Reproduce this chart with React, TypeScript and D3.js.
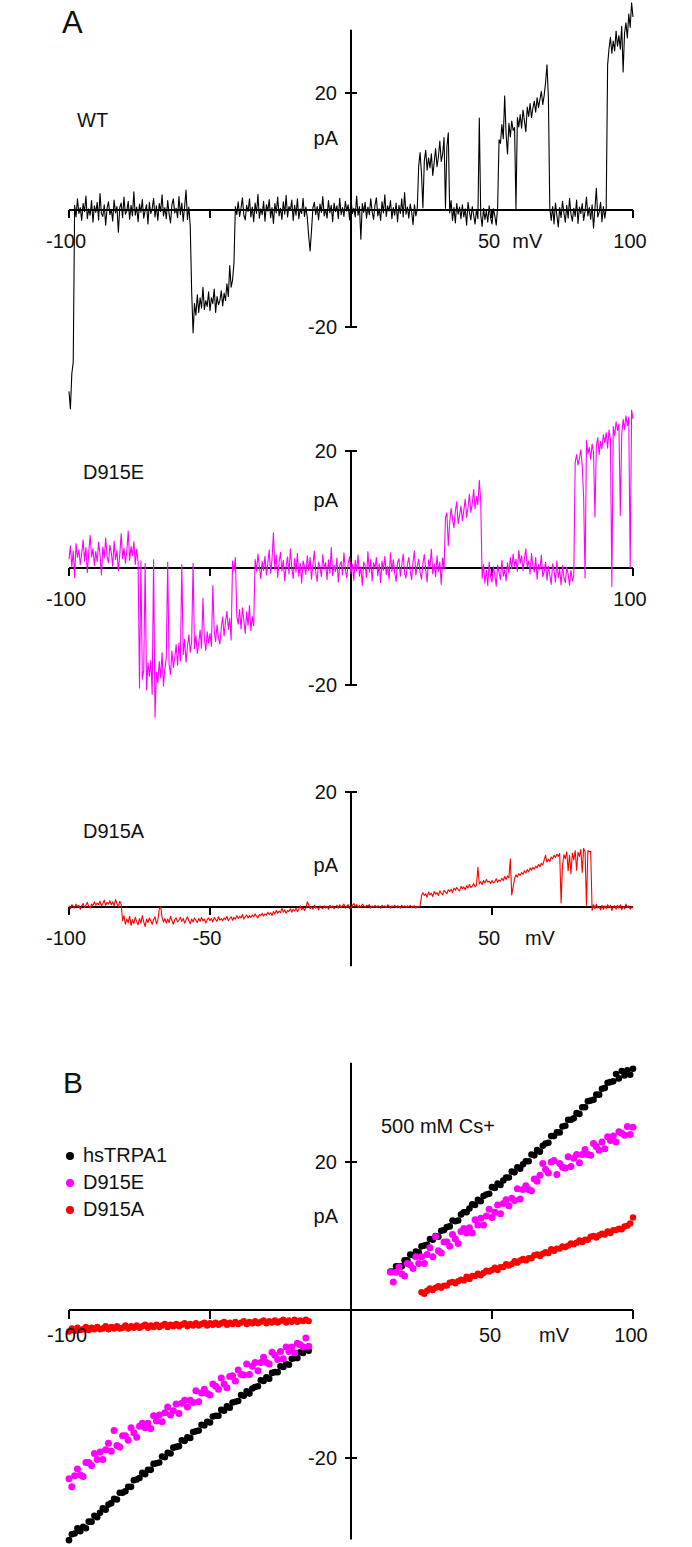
import React from 'react';
import * as d3 from 'd3';

// ---------- Panel A: single-channel traces, sampled every 0.5 mV from -100 to +100 mV (pA) ----------
const wtTrace = [
  -31, -34, -28, -26, 0.8, -1.2, 1.9, -0.6, 0.4, -1.8,
  1.1, -0.3, 2.4, -1.5, 0.2, -0.9, 1.6, -2.1, 0.7, -0.4,
  1.3, -1.7, 2.8, -0.6, -1.1, 0.9, -2.6, 0.3, 1.4, -0.8,
  0.1, -1.9, 1.7, -0.5, 0.6, -3.8, 0.4, 1.2, -1.3, 2.2,
  -0.7, -0.2, 1.5, -1.6, 0.8, -1.0, 3.1, -0.9, 0.5, -2.0,
  1.0, -0.4, 1.8, -1.4, -0.1, 0.9, -2.4, 1.3, -0.6, 0.2,
  2.0, -1.2, 0.7, -1.8, 1.1, -0.3, 2.6, -1.0, 0.4, -1.5,
  1.6, -0.7, -2.2, 0.9, 1.9, -0.5, 0.3, -1.3, 2.3, -0.8,
  1.2, -1.9, 0.6, 3.4, -1.6, 0.5, -2.8, -14, -21, -16,
  -18, -14.5, -17.5, -15, -16.8, -13.2, -17, -15.5, -16.5, -14,
  -17.2, -15, -16, -13.5, -17.5, -14.8, -16.2, -15.5, -13.8, -16.4,
  -14.2, -15.5, -12.6, -14.8, -9.5, -13.2, -12, -9, 0.6, -0.8,
  1.4, -1.1, 0.3, 2.1, -0.9, -1.7, 0.8, -0.3, 1.9, -1.2,
  0.5, -2.0, 1.2, -0.6, 2.7, -1.4, 0.2, -0.8, 1.5, -1.9,
  0.9, -0.2, 1.8, -1.3, 0.4, -2.3, 1.1, -0.5, 2.2, -1.0,
  0.3, -1.6, 1.4, -0.7, 2.5, -1.2, 0.6, -0.1, 1.7, -1.8,
  0.8, -0.9, 1.9, -1.5, 0.2, -0.6, 2.0, -1.1, 0.5, -1.3,
  -4.5, -7, -3.5, 0.4, 1.3, -0.8, 0.6, -1.7, 1.0, -0.4,
  2.3, -1.0, 0.1, -1.4, 1.6, -0.5, 0.8, -2.0, 1.2, -0.3,
  0.7, -1.5, 2.0, -0.8, 0.4, -1.1, 1.5, -0.2, 0.9, -1.7,
  1.8, -0.6, 0.3, -1.2, 2.4, -0.9, 0.6, -5.0, 1.1, -0.4,
  1.3, -1.4, 0.5, -0.8, 1.9, -0.3, -1.6, 0.8, 2.1, -1.0,
  0.2, -1.8, 1.4, -0.5, 2.6, -1.1, 0.7, -0.2, 1.6, -1.5,
  0.4, -0.9, 1.2, -2.0, 0.8, -0.6, 1.9, -1.2, 3.0, -0.7,
  0.5, -1.4, 1.0, -0.3, -2.5, 0.9, -1.0, 0.2, 7.5, 9.8,
  6.2, 0.4, 8.4, 10.2, 6.8, 8.9, 7.2, 9.6, 5.9, 8.1,
  10.5, 7.4, 9.1, 11.8, 8.3, 9.6, 12.4, 0.3, 10.8, 13.2,
  -0.5, 1.6, -1.8, 0.4, -2.2, 1.1, -0.7, 0.5, -1.5, 0.9,
  -1.2, 0.2, -2.6, 1.3, -0.4, -1.7, 0.6, -0.9, -2.4, 0.1,
  -1.5, 15.7, -0.8, -2.8, 0.3, -1.6, -0.2, -2.1, 0.7, -1.3,
  -2.4, 0.2, -1.0, -2.6, 0.5, 12.0, 11.4, 14.6, 12.2, 19.5,
  13.0, 9.6, 14.8, 12.5, 15.2, 13.6, 14.1, 0.2, 15.8, 14.2,
  16.3, 14.0, 17.1, 15.2, 13.4, 17.6, 16.0, 18.2, 15.8, 17.4,
  18.6, 16.7, 19.2, 17.5, 18.9, 20.3, 18.0, 19.6, 21.8, 24.8,
  19.2, 0.3, -1.8, 0.6, -2.4, 1.2, -0.9, -2.9, 0.4, -1.3,
  1.5, -0.5, -2.1, 0.8, -1.4, 2.0, -0.7, -1.9, 0.3, -1.1,
  1.7, -2.3, 0.5, -0.6, 1.1, -1.8, -0.2, 2.2, -1.0, 0.4,
  -1.6, 0.9, -3.1, 0.2, 3.7, -1.2, -0.4, 1.3, -2.0, 0.6,
  -1.4, 0.3, 24.8, 27.6, 29.5, 26.8, 28.9, 27.2, 30.6, 28.0,
  29.8, 27.5, 31.4, 23.6, 30.2, 32.0, 29.4, 33.5, 31.2, 35.4,
  33.0,
];

const d915eTrace = [
  1.5, 3.8, 0.2, 2.9, -1.6, 4.2, 1.8, 3.1, 0.6, 2.4,
  4.8, 1.2, 3.5, -0.8, 2.7, 5.6, 1.9, 3.3, 0.4, 2.8,
  1.1, 4.4, 2.3, -1.2, 3.6, 1.7, 5.1, 2.0, 0.9, 3.9,
  2.6, 0.3, 4.6, 1.4, 3.0, -0.5, 2.2, 5.9, 1.6, 3.4,
  0.8, 2.9, 6.3, 1.3, 3.7, 2.1, 4.5, 0.6, 3.2, 1.0,
  -20.5, 1.2, -19, -17.5, 0.8, -20.8, -16.2, -18.5, -15.8, -21.6,
  1.4, -25.5, -17.8, -19.6, -16, -18.8, -14.5, -20.2, -17.2, -15.4,
  1.0, -16.5, -18.2, -14.2, -17, -15.4, -13.1, -16.6, -12.8, -15.9,
  0.6, -14.8, -12.2, -16.1, -13.5, -11.4, -14.4, -12.6, 0.8, -13.8,
  -11.5, -14.6, -12.9, -10.6, -13.7, -5.2, -12.0, -14.1, -10.9, -12.8,
  -11.2, -13.4, -3.0, -10.8, -12.6, -9.7, -11.9, -13.0, -10.2, -8.4,
  -11.6, -9.2, -7.4, -10.5, -8.6, -12.3, 1.2, -0.5, 1.8, -8.2,
  -9.6, -7.1, -10.4, -6.8, -8.9, -11.2, -7.5, -9.8, -6.4, -10.7,
  -8.3, -9.9, 1.5, -0.6, 2.4, 0.3, -1.8, 1.1, -0.4, 2.0,
  -1.2, 0.7, 3.1, -0.9, 1.5, 6.0, -0.3, 2.2, -1.6, 0.9,
  2.7, -0.5, 1.3, -2.2, 0.4, 1.9, -1.0, 3.3, 0.1, -1.8,
  1.6, -0.7, 2.5, -1.4, 0.8, -2.6, 1.2, 0.3, -1.1, 2.1,
  -0.4, 1.8, -1.9, 0.6, 2.9, -0.8, -2.3, 1.0, 0.2, -1.5,
  2.3, -0.2, 0.9, -2.0, 1.4, -0.9, 3.5, -1.3, 0.5, -0.6,
  1.7, -2.4, 0.4, 1.1, -1.2, 2.6, -0.3, -1.7, 0.8, 1.9,
  -0.9, 0.6, -2.1, 1.3, -0.5, 2.2, -1.4, 0.2, -3.0, 1.0,
  0.4, -1.6, 2.8, -0.7, 1.5, -2.2, 0.9, -0.1, 1.8, -1.3,
  0.7, -2.5, 1.2, -0.4, 2.0, -1.1, 0.3, -1.9, 2.6, -0.6,
  1.4, -0.8, -2.3, 0.9, 1.6, -1.4, 0.5, 2.4, -0.9, -1.7,
  0.6, 1.8, -0.5, -2.0, 1.1, 2.9, -1.2, 0.3, 1.5, -0.8,
  -1.9, 0.8, 2.3, -0.3, -2.4, 1.4, 0.1, 3.2, -1.0, 0.7,
  -1.5, 2.1, -0.6, 1.0, -2.8, 1.7, -0.2, 8.6, 9.4, 3.8,
  7.8, 10.2, 8.4, 6.9, 9.7, 11.3, 7.6, 9.0, 10.6, 8.1,
  9.8, 11.8, 8.7, 10.4, 12.6, 9.5, 11.0, 13.4, 10.1, 12.2,
  10.8, 15.0, 11.5, -1.8, 0.6, -2.6, -0.4, -3.0, 1.0, -1.5,
  -2.4, 0.2, -1.1, -3.1, 0.5, -0.8, -2.0, 1.3, -1.4, -0.3,
  -2.2, 0.9, -0.9, 1.8, -0.1, 2.4, 0.3, 1.5, -0.6, 3.0,
  0.8, 2.1, -0.4, 1.6, 3.3, 0.2, 1.2, -1.0, 2.5, 0.4,
  -0.7, 1.8, -1.9, 0.6, -0.3, 2.2, -1.5, -0.6, 1.0, -2.1,
  0.3, -1.2, -2.8, 0.7, -0.5, -2.4, 1.2, -1.7, -0.2, -2.9,
  0.4, -1.6, -2.5, 0.1, -1.1, -3.0, -0.4, -2.2, -1.3, 18.0,
  19.4, 17.6, 18.8, 20.2, 17.4, 12.0, -1.7, 21.8, 19.5, 20.6,
  18.6, 21.2, 19.8, 8.7, 20.9, 22.3, 19.4, 21.6, 20.4, 22.8,
  21.4, 23.1, 20.5, 23.6, 22.0, -3.2, 24.2, 22.6, 25.0, 23.5,
  24.6, 9.0, 22.8, 25.4, 23.7, 26.0, 24.3, 25.8, 0.0, 27.0,
  25.5,
];

const d915aTrace = [
  0.2, -0.3, 0.4, 0.1, -0.2, 0.5, 0.0, 0.3, -0.4, 0.2,
  0.6, -0.1, 0.3, 0.8, 0.1, -0.2, 0.5, 0.2, 0.9, 0.3,
  0.7, 0.4, 1.0, 0.2, 0.6, 1.2, 0.3, 0.8, 0.5, 1.1,
  0.4, 0.9, 0.2, 1.3, 0.6, 0.1, 1.0, 0.5, -2.4, -1.5,
  -3.0, -2.1, -2.7, -1.6, -3.2, -2.2, -2.9, -1.8, -2.5, -3.1,
  -2.0, -2.8, -1.5, -2.6, -3.4, -2.1, -2.7, -1.9, -2.4, -3.0,
  -2.2, -1.7, -2.9, -2.3, -0.4, 0.1, -1.8, -2.6, -2.0, -2.8,
  -2.1, -2.7, -1.6, -2.4, -3.0, -2.2, -1.9, -2.6, -2.3, -1.8,
  -2.5, -2.0, -2.8, -2.2, -1.7, -2.4, -2.9, -2.1, -2.6, -1.9,
  -2.3, -2.7, -2.0, -2.5, -1.8, -2.4, -2.1, -2.8, -2.2, -1.9,
  -2.4, -2.0, -2.6, -1.8, -2.2, -2.5, -1.7, -2.3, -2.0, -2.4,
  -1.9, -2.2, -1.6, -2.4, -2.0, -1.7, -2.3, -1.8, -2.1, -1.5,
  -2.0, -1.6, -1.9, -1.3, -2.1, -1.7, -1.4, -1.9, -1.5, -1.8,
  -1.4, -1.7, -1.2, -1.6, -1.9, -1.3, -1.5, -1.1, -1.6, -1.2,
  -1.4, -0.9, -1.3, -1.0, -1.5, -0.8, -1.2, -0.6, -1.1, -0.7,
  -1.0, -0.2, -0.9, -0.5, -1.1, -0.6, -0.8, -0.3, -0.9, -0.4,
  -0.7, -0.2, -0.8, -0.4, 0.2, -0.5, -0.1, -0.6, -0.2, 0.9,
  0.4, -0.3, 0.1, -0.4, 0.3, -0.2, 0.0, -0.5, 0.2, -0.1,
  -0.3, 0.2, -0.2, 0.1, -0.4, 0.3, -0.1, 0.2, -0.3, 0.0,
  0.3, -0.2, 0.4, -0.1, 0.2, 0.5, -0.2, 0.1, 0.4, -0.3,
  -0.2, 0.3, 0.6, 0.1, 0.4, -0.1, 0.3, 0.0, 0.5, 0.2,
  -0.1, 0.3, 0.1, 0.4, -0.2, 0.2, 0.0, 0.3, -0.1, 0.2,
  0.1, -0.2, 0.3, 0.0, 0.2, -0.1, 0.4, 0.1, -0.2, 0.2,
  0.0, 0.3, -0.1, 0.2, 0.1, -0.2, 0.3, 0.0, 0.2, -0.1,
  0.2, 0.0, 0.3, -0.1, 0.1, 0.2, -0.2, 0.1, 0.0, 0.2,
  1.9, 2.5, 2.0, 2.3, 1.7, 2.6, 2.1, 2.4, 1.8, 2.7,
  2.2, 2.5, 2.0, 2.8, 2.4, 2.1, 2.9, 2.6, 2.3, 3.0,
  2.7, 3.1, 2.5, 3.3, 2.9, 3.4, 3.0, 2.8, 3.6, 3.2,
  3.5, 3.0, 3.7, 3.3, 3.9, 3.4, 3.6, 4.1, 3.5, 3.8,
  6.9, 4.0, 4.4, 3.9, 4.6, 4.2, 4.8, 4.3, 4.5, 4.1,
  4.6, 4.2, 4.4, 4.9, 4.3, 4.7, 4.5, 5.0, 4.6, 5.3,
  4.8, 5.4, 5.1, 8.4, 2.1, 3.5, 4.9, 5.6, 5.2, 5.8,
  5.5, 6.0, 5.7, 6.3, 5.9, 6.5, 6.1, 6.8, 6.4, 6.9,
  6.6, 7.1, 6.8, 7.4, 7.0, 7.6, 7.3, 8.2, 9.0, 7.8,
  8.3, 7.9, 8.7, 8.4, 9.0, 8.6, 9.2, 8.8, 9.3, 0.7,
  7.2, 9.1, 8.4, 9.6, 6.3, 9.0, 5.8, 9.4, 8.2, 9.8,
  6.4, 9.5, 8.8, 10.0, 6.0, 10.2, 9.6, 0.3, 9.8, 9.6,
  9.7, -0.6, 0.4, -0.3, 0.5, -0.2, 0.1, -0.5, 0.3, -0.4,
  0.2, -0.3, 0.4, -0.1, 0.3, -0.6, 0.1, 0.2, -0.4, 0.3,
  -0.2, 0.4, -0.5, 0.1, -0.3, 0.5, -0.1, 0.2, -0.4, 0.1,
  -0.2,
];

// ---------- Panel B: I-V relations in 500 mM Cs+, 1 mV steps (pA) ----------
const hsTRPA1NegStart = -100;
const hsTRPA1Neg = [
  -31.1, -30.3, -30.2, -29.5, -29.9, -29.3, -29.5, -28.6, -28.6, -27.8,
  -28.0, -27.4, -26.8, -27.0, -26.3, -26.1, -25.5, -25.6, -24.7, -24.7,
  -24.5, -23.9, -23.9, -23.0, -22.9, -22.7, -22.0, -22.2, -21.6, -21.6,
  -20.8, -20.7, -20.6, -19.8, -19.9, -19.3, -19.4, -18.6, -18.5, -18.4,
  -17.6, -17.7, -17.2, -17.3, -16.5, -16.4, -16.3, -15.5, -15.6, -15.1,
  -15.2, -14.4, -14.3, -14.3, -13.5, -13.6, -13.0, -13.2, -12.5, -12.4,
  -12.3, -11.5, -11.6, -11.0, -11.3, -10.6, -10.4, -10.3, -9.5, -9.6,
  -9.1, -9.3, -8.5, -8.4, -8.4, -7.6, -7.7, -7.3, -7.4, -6.6,
  -6.5, -6.5, -5.7, -5.8, -5.3, -5.5,
];
const hsTRPA1PosStart = 14;
const hsTRPA1Pos = [
  5.2, 5.2, 5.9, 5.9, 5.9, 6.7, 6.7, 7.5, 7.4, 7.9,
  7.8, 8.6, 8.7, 8.8, 9.6, 9.5, 10.0, 9.9, 10.7, 10.8,
  11.2, 11.3, 12.1, 12.0, 12.1, 12.9, 13.2, 13.2, 13.7, 14.3,
  14.2, 14.9, 14.7, 15.4, 15.6, 15.7, 16.6, 16.5, 17.1, 16.9,
  17.5, 17.9, 17.9, 18.7, 18.6, 19.3, 19.1, 19.7, 20.1, 20.1,
  21.0, 20.9, 21.6, 21.4, 22.2, 22.5, 22.6, 23.5, 23.5, 24.0,
  24.0, 24.8, 24.9, 25.7, 25.7, 25.9, 26.6, 26.5, 27.4, 27.4,
  28.2, 28.3, 28.4, 29.1, 29.1, 29.9, 30.0, 30.7, 30.8, 30.9,
  31.9, 31.3, 32.3, 31.7, 32.4, 31.8, 32.6,
];
const d915eNegStart = -100;
const d915eNeg = [
  -22.8, -23.9, -22.4, -21.5, -22.3, -22.5, -20.6, -20.6, -21.0, -19.4,
  -20.2, -19.2, -20.2, -18.9, -18.0, -19.1, -16.3, -18.3, -18.5, -17.0,
  -17.0, -17.6, -15.9, -16.6, -17.2, -15.7, -15.3, -15.9, -15.3, -16.0,
  -14.3, -15.0, -14.2, -15.1, -13.9, -13.1, -14.2, -13.6, -12.7, -14.0,
  -12.6, -12.2, -13.1, -12.2, -12.5, -10.9, -12.4, -11.2, -10.7, -11.3,
  -11.5, -10.0, -10.3, -10.7, -9.2, -10.0, -10.5, -9.0, -8.9, -9.6,
  -8.1, -8.7, -8.8, -7.3, -8.7, -7.6, -7.1, -8.2, -7.1, -6.4,
  -7.1, -7.3, -5.7, -6.1, -6.7, -5.6, -6.6, -5.0, -5.6, -5.0,
  -5.8, -4.5, -4.7, -5.0, -3.8, -4.9,
];
const d915ePosStart = 14;
const d915ePos = [
  5.1, 3.8, 5.1, 5.8, 4.9, 4.6, 6.3, 6.1, 5.6, 7.2,
  6.3, 7.2, 6.3, 7.5, 8.4, 7.2, 9.9, 8.0, 7.7, 9.2,
  9.2, 8.6, 10.2, 9.6, 9.0, 10.6, 11.0, 10.4, 11.1, 10.4,
  12.2, 11.5, 12.4, 11.5, 12.7, 13.6, 12.5, 13.2, 14.2, 13.0,
  14.4, 14.9, 14.1, 15.1, 14.8, 16.4, 15.0, 16.3, 16.8, 16.3,
  16.1, 17.7, 17.4, 18.2, 19.8, 19.0, 18.5, 20.0, 20.2, 18.3,
  19.8, 19.3, 19.2, 20.7, 19.4, 20.5, 21.0, 19.9, 21.0, 21.7,
  21.0, 20.9, 22.5, 22.1, 21.6, 22.7, 21.8, 23.4, 22.9, 23.5,
  22.7, 24.1, 23.9, 23.6, 24.8, 23.7, 24.7,
];
const d915aNegStart = -100;
const d915aNeg = [
  -2.9, -2.5, -2.8, -2.4, -2.7, -2.6, -2.3, -2.7, -2.4, -2.6,
  -2.3, -2.6, -2.5, -2.2, -2.6, -2.3, -2.5, -2.2, -2.5, -2.4,
  -2.1, -2.5, -2.2, -2.4, -2.1, -2.4, -2.2, -2.0, -2.4, -2.1,
  -2.3, -2.0, -2.3, -2.1, -1.9, -2.3, -2.0, -2.2, -1.9, -2.2,
  -2.0, -1.8, -2.2, -1.9, -2.1, -1.8, -2.1, -1.9, -1.7, -2.1,
  -1.8, -2.0, -1.7, -2.0, -1.8, -1.6, -2.0, -1.7, -1.9, -1.6,
  -1.9, -1.7, -1.5, -1.9, -1.6, -1.8, -1.5, -1.8, -1.6, -1.4,
  -1.8, -1.5, -1.7, -1.4, -1.7, -1.5, -1.3, -1.7, -1.4, -1.6,
  -1.3, -1.6, -1.4, -1.5, -1.3, -1.5,
];
const d915aPosStart = 25;
const d915aPos = [
  2.4, 2.2, 2.6, 2.9, 2.7, 3.0, 3.2, 3.0, 3.3, 3.3,
  3.7, 3.8, 3.6, 3.9, 4.1, 4.0, 4.5, 4.2, 4.6, 4.6,
  4.9, 4.7, 5.0, 5.3, 5.2, 5.4, 5.7, 5.4, 5.8, 5.8,
  6.2, 6.0, 6.2, 6.6, 6.4, 6.7, 6.9, 6.7, 7.0, 7.0,
  7.4, 7.5, 7.3, 7.6, 7.8, 7.7, 8.2, 8.0, 8.3, 8.3,
  8.6, 8.5, 8.7, 9.0, 8.9, 9.1, 9.4, 9.2, 9.5, 9.5,
  9.9, 10.0, 9.8, 10.1, 10.3, 10.2, 10.6, 10.4, 10.8, 10.8,
  11.0, 10.9, 11.3, 11.4, 11.7, 12.5,
];

const legendNames = ['hsTRPA1', 'D915E', 'D915A'];
const seriesColors = ['#000000', '#ff00ff', '#ff0000'];

const FONT = '"Liberation Sans", Arial, Helvetica, sans-serif';
const W = 692;
const H = 1547;

const x = d3.scaleLinear().domain([-100, 100]).range([69, 633]);

type TracePanel = {
  name: string;
  values: number[];
  color: string;
  y: d3.ScaleLinear<number, number>;
  yAxisRange: [number, number];
  yTicks: number[];
  yTickLabels: number[];
  xTicks: number[];
  xLabels: { v: number; t: string }[];
  mV: number | null;
  nameX: number;
  nameBaseline: number;
  pABaseline: number;
};

const panels: TracePanel[] = [
  {
    name: 'WT', values: wtTrace, color: '#000000',
    y: d3.scaleLinear().domain([0, 20]).range([210, 93]),
    yAxisRange: [-20, 30.8], yTicks: [20, -20], yTickLabels: [20, -20],
    xTicks: [-100, -50, 50, 100],
    xLabels: [{ v: -100, t: '-100' }, { v: 50, t: '50' }, { v: 100, t: '100' }],
    mV: 62.5, nameX: 77, nameBaseline: 127, pABaseline: 145,
  },
  {
    name: 'D915E', values: d915eTrace, color: '#ff00ff',
    y: d3.scaleLinear().domain([0, 20]).range([568, 451]),
    yAxisRange: [-20, 20], yTicks: [20, -20], yTickLabels: [20, -20],
    xTicks: [-100, -50, 50, 100],
    xLabels: [{ v: -100, t: '-100' }, { v: 100, t: '100' }],
    mV: null, nameX: 83, nameBaseline: 479, pABaseline: 507,
  },
  {
    name: 'D915A', values: d915aTrace, color: '#ff0000',
    y: d3.scaleLinear().domain([0, 20]).range([907, 792]),
    yAxisRange: [-10.3, 20], yTicks: [20], yTickLabels: [20],
    xTicks: [-100, -50, 50],
    xLabels: [{ v: -100, t: '-100' }, { v: -50, t: '-50' }, { v: 50, t: '50' }],
    mV: 67, nameX: 83, nameBaseline: 838, pABaseline: 872,
  },
];

const yB = d3.scaleLinear().domain([0, 20]).range([1310, 1162]);

function tracePath(values: number[], y: d3.ScaleLinear<number, number>) {
  const idx = d3.scaleLinear().domain([0, values.length - 1]).range([-100, 100]);
  return d3.line<number>().x((_, i) => x(idx(i))).y((d) => y(d))(values) || '';
}

function dots(values: number[], start: number) {
  return values.map((v, i) => ({ mv: start + i, pa: v }));
}

const ivSeries = [
  { color: seriesColors[0], r: 3.3, pts: [...dots(hsTRPA1Neg, hsTRPA1NegStart), ...dots(hsTRPA1Pos, hsTRPA1PosStart)] },
  { color: seriesColors[1], r: 3.5, pts: [...dots(d915eNeg, d915eNegStart), ...dots(d915ePos, d915ePosStart)] },
  { color: seriesColors[2], r: 3.2, pts: [...dots(d915aNeg, d915aNegStart), ...dots(d915aPos, d915aPosStart)] },
];

const AX = { stroke: '#000', strokeWidth: 2 };
const TXT = { fontFamily: FONT, fontSize: 20, fill: '#111' };

export default function App() {
  const x0 = x(0);
  return (
    <svg width={W} height={H} viewBox={`0 0 ${W} ${H}`}
      style={{ position: 'absolute', left: 0, top: 0, background: '#fff', display: 'block' }}>
      <rect x={0} y={0} width={W} height={H} fill="#fff" />
      <text x={62} y={33} fontFamily={FONT} fontSize={31} fill="#111">A</text>

      {panels.map((p) => {
        const y0 = p.y(0);
        return (
          <g key={p.name}>
            <line x1={x(-100)} x2={x(100)} y1={y0} y2={y0} {...AX} />
            {p.xTicks.map((t) => (
              <line key={t} x1={x(t)} x2={x(t)} y1={y0} y2={y0 + 8} {...AX} />
            ))}
            <line x1={x0} x2={x0} y1={p.y(p.yAxisRange[0])} y2={p.y(p.yAxisRange[1])} {...AX} />
            {p.yTicks.map((t) => (
              <line key={t} x1={x0 - 6} x2={x0 + 6} y1={p.y(t)} y2={p.y(t)} {...AX} />
            ))}
            <path d={tracePath(p.values, p.y)} fill="none" stroke={p.color} strokeWidth={1.1} strokeLinejoin="round" />
            {p.xLabels.map((l) => (
              <text key={l.t} x={x(l.v) - 3} y={y0 + 38} textAnchor="middle" {...TXT}>{l.t}</text>
            ))}
            {p.mV !== null && (
              <text x={x(p.mV)} y={y0 + 38} textAnchor="middle" {...TXT}>mV</text>
            )}
            {p.yTickLabels.map((t) => (
              <text key={t} x={337} y={p.y(t) + 7} textAnchor="end" {...TXT}>{t}</text>
            ))}
            <text x={338} y={p.pABaseline} textAnchor="end" {...TXT}>pA</text>
            <text x={p.nameX} y={p.nameBaseline} {...TXT}>{p.name}</text>
          </g>
        );
      })}

      {/* Panel B */}
      <g>
        <text x={63} y={1093} fontFamily={FONT} fontSize={30} fill="#111">B</text>
        <line x1={x(-100)} x2={x(100)} y1={yB(0)} y2={yB(0)} {...AX} />
        {[-100, -50, 50, 100].map((t) => (
          <line key={t} x1={x(t)} x2={x(t)} y1={yB(0)} y2={yB(0) + 9} {...AX} />
        ))}
        <line x1={x0} x2={x0} y1={yB(-31)} y2={yB(33.4)} {...AX} />
        {[20, -20].map((t) => (
          <line key={t} x1={x0 - 6} x2={x0 + 6} y1={yB(t)} y2={yB(t)} {...AX} />
        ))}
        {ivSeries.map((s, si) => (
          <g key={si}>
            {s.pts.map((p, i) => (
              <circle key={i} cx={x(p.mv)} cy={yB(p.pa)} r={s.r} fill={s.color} />
            ))}
          </g>
        ))}
        {[{ v: -100, t: '-100' }, { v: 50, t: '50' }, { v: 100, t: '100' }].map((l) => (
          <text key={l.t} x={x(l.v) - 2} y={yB(0) + 32} textAnchor="middle" {...TXT}>{l.t}</text>
        ))}
        <text x={x(72)} y={yB(0) + 32} textAnchor="middle" {...TXT}>mV</text>
        {[20, -20].map((t) => (
          <text key={t} x={337} y={yB(t) + 7} textAnchor="end" {...TXT}>{t}</text>
        ))}
        <text x={338} y={1223} textAnchor="end" {...TXT}>pA</text>
        <text x={381} y={1133} {...TXT}>500 mM Cs+</text>
        {legendNames.map((n, i) => (
          <g key={n}>
            <circle cx={70} cy={1156 + i * 27} r={4} fill={seriesColors[i]} />
            <text x={83} y={1162 + i * 27} {...TXT}>{n}</text>
          </g>
        ))}
      </g>
    </svg>
  );
}
